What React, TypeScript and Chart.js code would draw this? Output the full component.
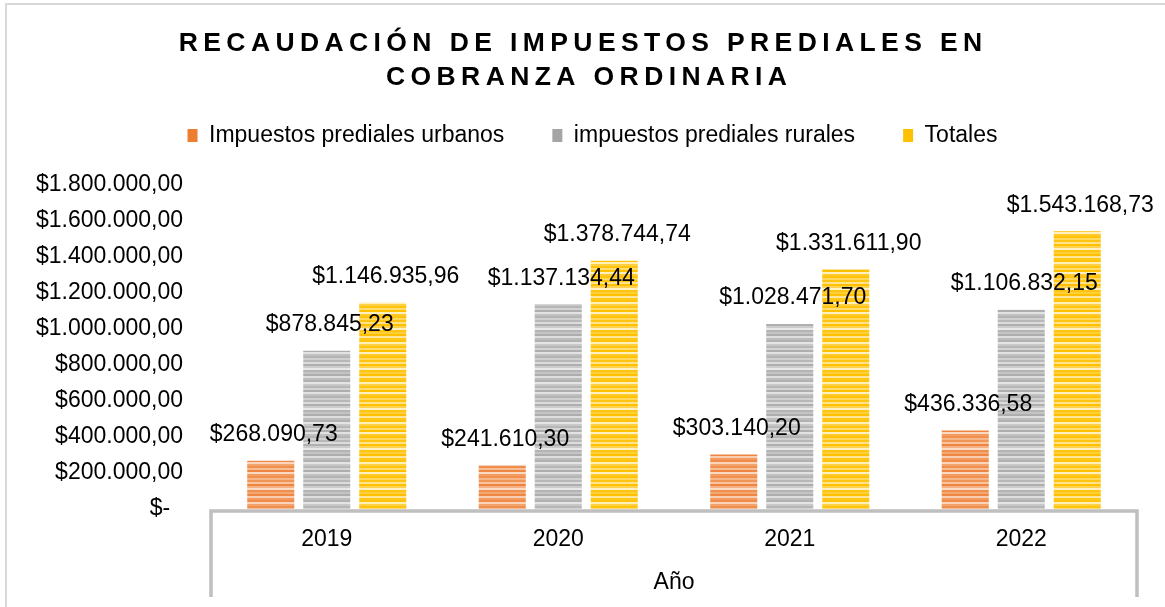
import React, { useEffect, useRef } from 'react';
import { Chart, registerables } from 'chart.js';

Chart.register(...registerables);

// ---- data ----
const years = ['2019', '2020', '2021', '2022'];
const urbanos = [268090.73, 241610.3, 303140.2, 436336.58];
const rurales = [878845.23, 1137134.44, 1028471.7, 1106832.15];
const totales = [1146935.96, 1378744.74, 1331611.9, 1543168.73];
const seriesNames = ['Impuestos prediales urbanos', 'impuestos prediales rurales', 'Totales'];
const yMax = 1800000;
const yStep = 200000;
const titleLines = ['RECAUDACIÓN DE IMPUESTOS PREDIALES EN', 'COBRANZA ORDINARIA'];
const xAxisTitle = 'Año';

const FONT = '"Liberation Sans", Arial, Helvetica, sans-serif';

function formatMoney(v: number): string {
  if (v === 0) return '$-  ';
  const [i, d] = v.toFixed(2).split('.');
  return '$' + i.replace(/\B(?=(\d{3})+(?!\d))/g, '.') + ',' + d;
}

const solidColors = ['#ed7d31', '#a5a5a5', '#ffc000'];
const stripeRows: string[][] = [
  ['#f19556', '#f8c4a0', '#ee8440', '#f5b184', '#fbdcc6', '#f0904f', '#f4a770', '#ee8744', '#f9cdb0', '#f29a5e', '#ef8a4a', '#fad5bb', '#f3a46c', '#f08e4e', '#f7bd94', '#ee8642', '#fbd8c0', '#f29c62', '#f09052', '#f6b487'],
  ['#b8b8b8', '#dcdcdc', '#afafaf', '#cccccc', '#e8e8e8', '#b4b4b4', '#c4c4c4', '#adadad', '#dedede', '#bcbcbc', '#b2b2b2', '#e4e4e4', '#c8c8c8', '#b6b6b6', '#d4d4d4', '#aeaeae', '#e2e2e2', '#c0c0c0', '#b4b4b4', '#d0d0d0'],
  ['#ffc514', '#ffe38c', '#ffc000', '#ffd24d', '#fff1c4', '#ffc512', '#ffcf3a', '#ffc000', '#ffe699', '#ffc81f', '#ffc30a', '#ffefb8', '#ffd142', '#ffc40d', '#ffdc70', '#ffc000', '#fff0bf', '#ffca29', '#ffc30a', '#ffd75c'],
];

function stripePattern(rows: string[]): CanvasPattern | string {
  const rh = 2;
  const c = document.createElement('canvas');
  c.width = 4;
  c.height = rows.length * rh;
  const g = c.getContext('2d');
  if (!g) return rows[0];
  rows.forEach((col, i) => {
    g.fillStyle = col;
    g.fillRect(0, i * rh, 4, rh);
  });
  return g.createPattern(c, 'repeat') || rows[0];
}

const framePlugin = {
  id: 'frameAndTitle',
  beforeLayout(chart: any) {
    const lg = chart.legend;
    if (lg && !lg.__patched) {
      const orig = lg.fit.bind(lg);
      lg.fit = function () {
        orig();
        this.height = 109;
      };
      lg.__patched = true;
    }
  },
  beforeDraw(chart: any) {
    const { ctx, width, height } = chart;
    ctx.save();
    ctx.fillStyle = '#ffffff';
    ctx.fillRect(0, 0, width, height);
    ctx.strokeStyle = '#d9d9d9';
    ctx.lineWidth = 2;
    ctx.beginPath();
    ctx.moveTo(6, height);
    ctx.lineTo(6, 4);
    ctx.lineTo(width, 4);
    ctx.stroke();
    ctx.restore();
  },
  afterDatasetsDraw(chart: any) {
    const { ctx, chartArea } = chart;
    ctx.save();
    ctx.strokeStyle = '#bfbfbf';
    ctx.lineWidth = 3.5;
    ctx.lineJoin = 'miter';
    ctx.beginPath();
    ctx.moveTo(chartArea.left, 597);
    ctx.lineTo(chartArea.left, chartArea.bottom + 2);
    ctx.lineTo(chartArea.right, chartArea.bottom + 2);
    ctx.lineTo(chartArea.right, 597);
    ctx.stroke();
    ctx.fillStyle = '#000000';
    ctx.font = '23px ' + FONT;
    ctx.textAlign = 'center';
    ctx.textBaseline = 'middle';
    chart.data.datasets.forEach((ds: any, i: number) => {
      const meta = chart.getDatasetMeta(i);
      meta.data.forEach((bar: any, j: number) => {
        ctx.fillText(formatMoney(ds.data[j]), bar.x + 3, bar.y - 26);
      });
    });
    ctx.restore();
  },
  afterDraw(chart: any) {
    const { ctx } = chart;
    ctx.save();
    const spacing = 5.4;
    (ctx as any).letterSpacing = spacing + 'px';
    ctx.fillStyle = '#000000';
    ctx.font = 'bold 26.5px ' + FONT;
    ctx.textAlign = 'center';
    ctx.textBaseline = 'middle';
    ctx.fillText(titleLines[0], 580.5 + spacing / 2, 43.8);
    ctx.fillText(titleLines[1], 586.5 + spacing / 2, 78);
    (ctx as any).letterSpacing = '0px';
    ctx.restore();
  },
};

export default function App() {
  const ref = useRef<HTMLCanvasElement | null>(null);

  useEffect(() => {
    if (!ref.current) return;
    const series = [urbanos, rurales, totales];
    const chart = new Chart(ref.current, {
      type: 'bar',
      data: {
        labels: years,
        datasets: series.map((data, i) => ({
          label: seriesNames[i],
          data,
          backgroundColor: stripePattern(stripeRows[i]) as any,
          borderWidth: 0,
          categoryPercentage: 0.7257,
          barPercentage: 0.84,
          yAxisID: 'y',
        })),
      },
      options: {
        responsive: false,
        animation: false,
        devicePixelRatio: 1,
        layout: { padding: { top: 76, left: 20, right: 0, bottom: 0 } },
        plugins: {
          title: { display: false },
          tooltip: { enabled: false },
          legend: {
            display: true,
            position: 'top',
            align: 'center',
            labels: {
              color: '#000000',
              font: { size: 23, family: FONT },
              boxWidth: 10,
              boxHeight: 13,
              padding: 48,
              generateLabels(chart: any) {
                const items = (Chart.defaults.plugins.legend.labels as any).generateLabels(chart);
                items.forEach((it: any, i: number) => {
                  it.fillStyle = solidColors[i];
                  it.strokeStyle = solidColors[i];
                  it.lineWidth = 0;
                });
                return items;
              },
            },
          },
        },
        scales: {
          x: {
            grid: { display: false, drawTicks: false, tickLength: 0 },
            border: { display: false },
            ticks: { color: '#000000', font: { size: 23, family: FONT }, padding: 17 },
            title: {
              display: true,
              text: xAxisTitle,
              color: '#000000',
              font: { size: 23, family: FONT },
              padding: { top: 4, bottom: 11 },
            },
            afterFit(s: any) {
              s.height = 98;
            },
          },
          y: {
            position: 'left',
            min: 0,
            max: yMax,
            grid: { display: false, drawTicks: false, tickLength: 0 },
            border: { display: false },
            ticks: {
              stepSize: yStep,
              color: '#000000',
              font: { size: 23, family: FONT },
              padding: 28,
              callback: (v: any) => formatMoney(Number(v)),
            },
            afterFit(s: any) {
              s.width = 191;
            },
          },
          yRight: {
            position: 'right',
            display: true,
            grid: { display: false, drawTicks: false, tickLength: 0 },
            border: { display: false },
            ticks: { display: false },
            afterFit(s: any) {
              s.width = 28;
            },
          },
        },
      },
      plugins: [framePlugin as any],
    });
    return () => chart.destroy();
  }, []);

  return (
    <div style={{ position: 'fixed', left: 0, top: 0, width: 1165, height: 607, background: '#fff' }}>
      <canvas ref={ref} width={1165} height={607} style={{ display: 'block', width: 1165, height: 607 }} />
    </div>
  );
}
